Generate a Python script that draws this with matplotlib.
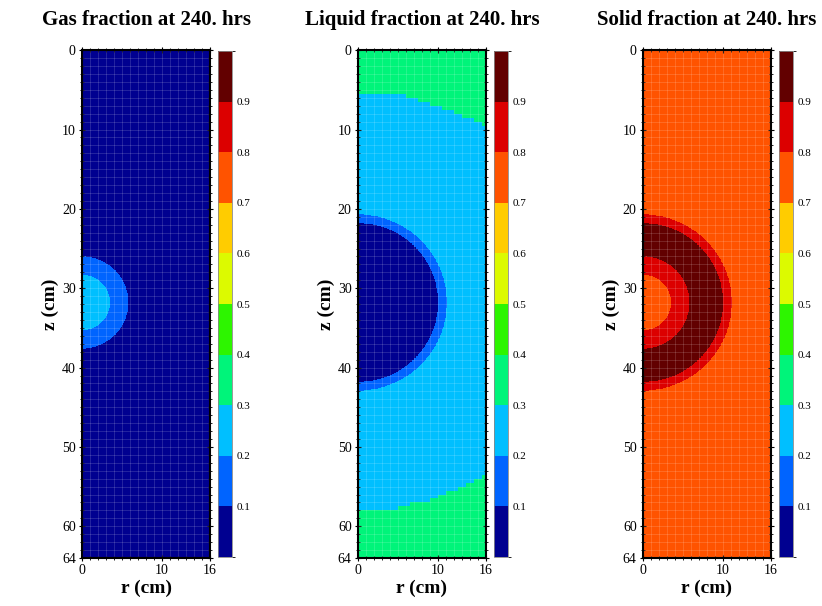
import numpy as np
import matplotlib
matplotlib.use("Agg")
import matplotlib.pyplot as plt
from matplotlib.colors import ListedColormap, BoundaryNorm

plt.rcParams['font.family'] = ['Liberation Serif', 'DejaVu Serif']

# --- data ---
TITLES = ["Gas fraction at 240. hrs",
          "Liquid fraction at 240. hrs",
          "Solid fraction at 240. hrs"]

LEVELS = [0.0, 0.1, 0.2, 0.3, 0.4, 0.5, 0.6, 0.7, 0.8, 0.9, 1.0]
COLORS = ["#000090", "#0064ff", "#00bfff", "#00f47a", "#2df500",
          "#dcfa00", "#ffcc00", "#ff5300", "#dc0000", "#620000"]

R_MAX = 16.0
Z_MAX = 64.0

# centre of the spherical zone (z, cm) and ring radii (cm), inner to outer
SPHERE_Z = 31.8
RING_RADII = [3.5, 5.8, 10.0, 11.1]

# fraction value inside each ring zone, from centre outwards (last = far field)
GAS_ZONES = [0.25, 0.15, 0.05, 0.05, 0.05]
LIQUID_ZONES = [0.05, 0.05, 0.05, 0.15, 0.25]
SOLID_ZONES = [0.75, 0.85, 0.95, 0.85, 0.75]

# liquid: upper and lower 0.3-0.4 zone boundaries (r, z)
TOP_R = [0.0, 5.5, 6.6, 8.7, 11.6, 14.1, 16.0]
TOP_Z = [5.6, 5.6, 6.3, 6.9, 7.9, 8.9, 9.8]
BOT_R = [0.0, 4.5, 4.9, 7.0, 8.9, 10.4, 11.6, 13.3, 14.5, 15.8, 16.0]
BOT_Z = [57.9, 57.9, 57.4, 56.9, 56.5, 55.8, 55.3, 54.6, 53.9, 53.3, 53.1]
LIQUID_END_VALUE = 0.35

CELL = 0.5   # mesh cell size (cm)
FINE = 0.05  # rendering resolution (cm)


def zone_field(zone_values, rr, zz):
    d = np.hypot(rr, zz - SPHERE_Z)
    idx = np.searchsorted(RING_RADII, d)
    return np.asarray(zone_values)[idx]


r_edges = np.arange(0, R_MAX + FINE / 2, FINE)
z_edges = np.arange(0, Z_MAX + FINE / 2, FINE)
rc = 0.5 * (r_edges[1:] + r_edges[:-1])
zc = 0.5 * (z_edges[1:] + z_edges[:-1])
rr, zz = np.meshgrid(rc, zc)

gas = zone_field(GAS_ZONES, rr, zz)
solid = zone_field(SOLID_ZONES, rr, zz)
liquid = zone_field(LIQUID_ZONES, rr, zz)
# interface evaluated per mesh cell so it comes out stepped
r_cell = (np.floor(rr / CELL) + 0.5) * CELL
top = np.floor(np.interp(r_cell, TOP_R, TOP_Z) / CELL) * CELL
bot = np.ceil(np.interp(r_cell, BOT_R, BOT_Z) / CELL) * CELL
liquid = np.where((zz < top) | (zz > bot), LIQUID_END_VALUE, liquid)

fields = [gas, liquid, solid]

cmap = ListedColormap(COLORS)
norm = BoundaryNorm(LEVELS, cmap.N)

fig = plt.figure(figsize=(8.22, 6.06), dpi=100)

ax_lefts = [0.0998, 0.4355, 0.7822]
cb_lefts = [0.2652, 0.6010, 0.9477]

for i in range(3):
    ax = fig.add_axes([ax_lefts[i], 0.0792, 0.1557, 0.838])
    mesh = ax.pcolormesh(r_edges, z_edges, fields[i], cmap=cmap, norm=norm,
                         shading='flat', rasterized=True)
    # faint mesh lines
    for x in np.arange(1.0, R_MAX, 1.0):
        ax.axvline(x, color='white', lw=0.6, alpha=0.17)
    for y in np.arange(1.0, Z_MAX, 1.0):
        ax.axhline(y, color='white', lw=0.6, alpha=0.17)
    ax.set_xlim(0, R_MAX)
    ax.set_ylim(Z_MAX, 0)
    ax.set_xticks([0, 10, 16])
    ax.set_yticks([0, 10, 20, 30, 40, 50, 60, 64])
    ax.set_xticks(np.arange(0, 17, 1), minor=True)
    ax.set_yticks(np.arange(0, 65, 1), minor=True)
    ax.tick_params(which='both', direction='inout', top=True, right=True,
                   labelsize=10, pad=2)
    ax.tick_params(which='major', length=5, width=0.8)
    ax.tick_params(which='minor', length=3, width=0.6)
    for s in ax.spines.values():
        s.set_linewidth(1.5)
    ax.set_xlabel("r (cm)", fontsize=14, fontweight='bold', labelpad=2)
    ax.set_ylabel("z (cm)", fontsize=14, fontweight='bold', labelpad=2)
    ax.set_title(TITLES[i], fontsize=15, fontweight='bold', pad=18)

    cax = fig.add_axes([cb_lefts[i], 0.0808, 0.017, 0.835])
    cb = fig.colorbar(mesh, cax=cax, ticks=LEVELS[1:-1])
    cb.ax.set_yticklabels([f"{v:.1f}" for v in LEVELS[1:-1]])
    cb.ax.tick_params(labelsize=8, length=0, pad=3)
    cb.outline.set_edgecolor('#888888')
    cb.outline.set_linewidth(0.6)

fig.savefig("out.png", dpi=100)
